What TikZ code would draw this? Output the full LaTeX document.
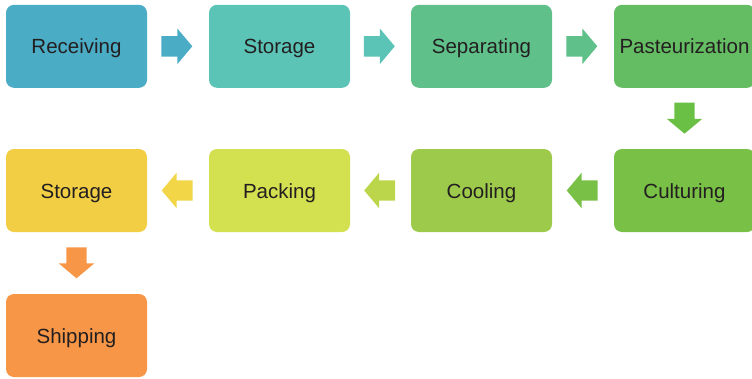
\documentclass[tikz,border=0pt]{standalone}
\usepackage{fontspec}
\setmainfont{Liberation Sans}
\usetikzlibrary{shapes.arrows,calc}
\definecolor{cRec}{HTML}{4BACC6}
\definecolor{cSto}{HTML}{5BC4B6}
\definecolor{cSep}{HTML}{5FC08A}
\definecolor{cPas}{HTML}{65BD63}
\definecolor{cCul}{HTML}{78C046}
\definecolor{cCoo}{HTML}{9DCA4A}
\definecolor{cPac}{HTML}{D3E04F}
\definecolor{cStb}{HTML}{F2CE45}
\definecolor{cShi}{HTML}{F79646}
\definecolor{aDown}{HTML}{6ABF45}
\definecolor{aCoo}{HTML}{BCD64B}
\definecolor{aPac}{HTML}{F2D647}
\definecolor{txt}{HTML}{231F20}
\tikzset{
  stepbox/.style={rectangle, rounded corners=8pt, minimum width=141pt, minimum height=83pt,
    inner sep=0pt, text=txt, font=\fontsize{20.5pt}{24pt}\selectfont,
    text height=15pt, text depth=0pt},
  blockarrow/.style={single arrow, single arrow head extend=7.5pt, single arrow head indent=0pt,
    single arrow tip angle=100, minimum height=31pt, minimum width=0pt, inner sep=0pt,
    draw=none, fill=#1},
}
\newcommand{\shaft}{\rule{0pt}{20pt}}
\begin{document}
\begin{tikzpicture}[x=1pt,y=-1pt]
\useasboundingbox (0,0) rectangle (752,378);
\node[stepbox, fill=cRec] (rec) at (76.5,46.3) {Receiving};
\node[stepbox, fill=cSto] (sto) at (279.5,46.3) {Storage};
\node[stepbox, fill=cSep] (sep) at (481.5,46.3) {Separating};
\node[stepbox, fill=cPas] (pas) at (684.5,46.3) {Pasteurization};
\node[stepbox, fill=cCul] (cul) at (684.5,190.5) {Culturing};
\node[stepbox, fill=cCoo] (coo) at (481.5,190.5) {Cooling};
\node[stepbox, fill=cPac] (pac) at (279.5,190.5) {Packing};
\node[stepbox, fill=cStb] (stb) at (76.5,190.5) {Storage};
\node[stepbox, fill=cShi] (shi) at (76.5,335.5) {Shipping};
\node[blockarrow=cRec] (a1) at ($(rec.east)!0.5!(sto.west)+(-5.5,0)$) {\shaft};
\node[blockarrow=cSto] (a2) at ($(sto.east)!0.5!(sep.west)+(-5.5,0)$) {\shaft};
\node[blockarrow=cSep] (a3) at ($(sep.east)!0.5!(pas.west)+(-5.5,0)$) {\shaft};
\node[blockarrow=aDown, rotate=-90] (a4) at ($(pas.south)!0.5!(cul.north)+(0,-4.5)$) {\shaft};
\node[blockarrow=cCul, shape border rotate=180] (a5) at ($(cul.west)!0.5!(coo.east)+(3.5,0)$) {\shaft};
\node[blockarrow=aCoo, shape border rotate=180] (a6) at ($(coo.west)!0.5!(pac.east)+(3.5,0)$) {\shaft};
\node[blockarrow=aPac, shape border rotate=180] (a7) at ($(pac.west)!0.5!(stb.east)+(3.5,0)$) {\shaft};
\node[blockarrow=cShi, rotate=-90] (a8) at ($(stb.south)!0.5!(shi.north)+(0,-4.5)$) {\shaft};
\end{tikzpicture}
\end{document}
